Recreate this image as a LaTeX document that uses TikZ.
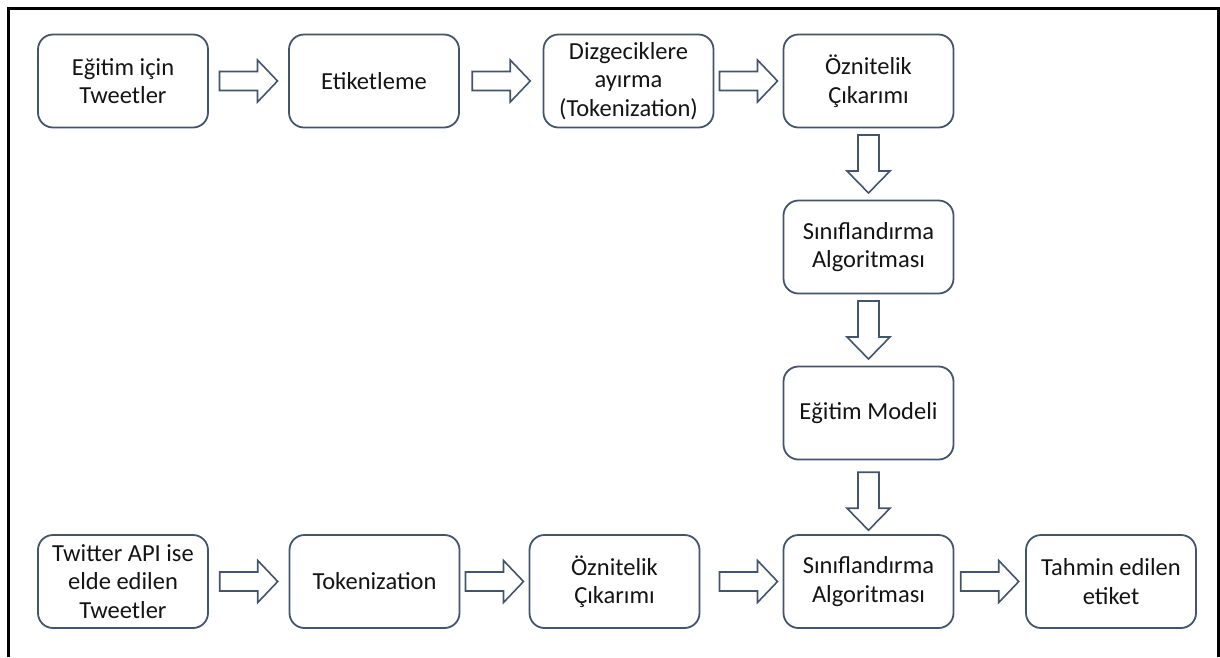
\documentclass[tikz,border=0pt]{standalone}
\usepackage{fontspec}
\setmainfont{Carlito}
\usetikzlibrary{calc}
\definecolor{edge}{RGB}{68,84,106}
\definecolor{ink}{RGB}{20,20,20}
\tikzset{
  box/.style={draw=edge, line width=1.8pt, rounded corners=15pt, fill=white,
    minimum width=170pt, minimum height=93pt, align=center, text=ink,
    font=\fontsize{24.5}{28.5}\selectfont, inner sep=2pt},
  blk/.style={draw=edge, line width=1.6pt, fill=white, line join=miter},
  rarrow/.pic={\draw[blk] (-29,-9.5) -- (9,-9.5) -- (9,-21) -- (29,0) -- (9,21) -- (9,9.5) -- (-29,9.5) -- cycle;},
  darrow/.pic={\draw[blk] (-10.5,-29) -- (-10.5,7) -- (-21.5,7) -- (0,29) -- (21.5,7) -- (10.5,7) -- (10.5,-29) -- cycle;}
}
\begin{document}
\begin{tikzpicture}[x=1pt, y=-1pt]
  \useasboundingbox (0,0) rectangle (1220,657);
  % outer frame, open at the bottom
  \draw[line width=3pt] (8,657) -- (8,8) -- (1218,8) -- (1218,657);

  % training pipeline
  \node[box] (b1) at (123,81)   {Eğitim için\\Tweetler};
  \node[box] (b2) at (374,81)   {Etiketleme};
  \node[box] (b3) at (628.5,81) {Dizgeciklere\\ayırma\\(Tokenization)};
  \node[box] (b4) at (868.5,81) {Öznitelik\\Çıkarımı};
  \node[box] (b5) at (868.5,247) {Sınıflandırma\\Algoritması};
  \node[box] (b6) at (868.5,413) {Eğitim Modeli};

  % prediction pipeline
  \node[box] (c1) at (123,581.5)   {Twitter API ise\\elde edilen\\Tweetler};
  \node[box] (c2) at (374.5,581.5) {Tokenization};
  \node[box] (c3) at (614.5,581.5) {Öznitelik\\Çıkarımı};
  \node[box] (c4) at (868.5,581.5) {Sınıflandırma\\Algoritması};
  \node[box] (c5) at (1111,581.5)  {Tahmin edilen\\etiket};

  % block arrows between the steps
  \path ($(b1.east)!0.5!(b2.west)$) pic {rarrow};
  \path ($(b2.east)!0.5!(b3.west)$) pic {rarrow};
  \path ($(b3.east)!0.5!(b4.west)$) pic {rarrow};
  \path ($(b4.south)!0.5!(b5.north)$) pic {darrow};
  \path ($(b5.south)!0.5!(b6.north)$) pic {darrow};
  \path ($(b6.south)!0.5!(c4.north)+(0,4)$) pic {darrow};
  \path ($(c1.east)!0.5!(c2.west)$) pic {rarrow};
  \path ($(c2.east)!0.5!(c3.west)$) pic {rarrow};
  \path ($(c3.east)!0.5!(c4.west)+(7,0)$) pic {rarrow};
  \path ($(c4.east)!0.5!(c5.west)$) pic {rarrow};
\end{tikzpicture}
\end{document}
